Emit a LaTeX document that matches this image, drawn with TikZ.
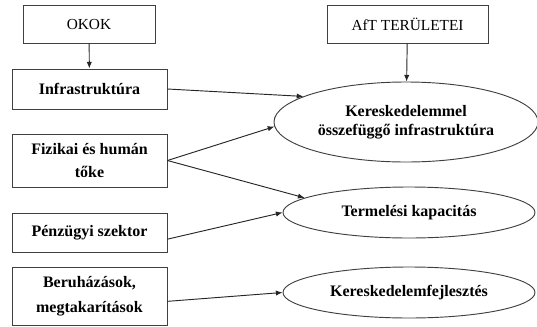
\documentclass[tikz,border=0pt]{standalone}
\usepackage{fontspec}
\setmainfont{Liberation Serif}
\usetikzlibrary{arrows.meta,shapes.geometric}
\tikzset{
  >={Latex[length=5pt,width=4pt]},
  head/.style={draw=black!75, line width=0.7pt, minimum width=132*0.75pt, minimum height=38*0.75pt, inner sep=0pt, font=\fontsize{11.5}{14}\selectfont},
  cause/.style={draw=black!75, line width=0.7pt, minimum width=155*0.75pt, inner sep=0pt, align=center, font=\bfseries\fontsize{12}{17}\selectfont},
  area/.style={draw=black!75, line width=0.7pt, ellipse, inner sep=0pt, align=center, font=\bfseries\fontsize{12}{14.5}\selectfont},
  link/.style={->, draw=black!85, line width=0.7pt},
}

\begin{document}
\begin{tikzpicture}[x=0.75pt, y=-0.75pt]
  \useasboundingbox (0,0) rectangle (537,326);
  % left column
  \node[head] (okok) at (89,24) {OKOK};
  \node[cause, minimum height=40*0.75pt] (infra) at (89.5,89) {Infrastruktúra};
  \node[cause, minimum height=53*0.75pt] (fiz) at (89.5,160.5) {Fizikai és humán\\tőke};
  \node[cause, minimum height=39*0.75pt] (penz) at (89.5,232.5) {Pénzügyi szektor};
  \node[cause, minimum height=58*0.75pt, font=\bfseries\fontsize{12}{19}\selectfont] (beruh) at (89.5,296) {Beruházások,\\megtakarítások};
  % right column
  \node[head, minimum width=161*0.75pt] (aft) at (407.5,24) {AfT TERÜLETEI};
  \node[area, minimum width=264*0.75pt, minimum height=80*0.75pt] (keri) at (406,122) {Kereskedelemmel\\összefüggő infrastruktúra};
  \node[area, minimum width=252*0.75pt, minimum height=51*0.75pt] (term) at (409,212.5) {Termelési kapacitás};
  \node[area, minimum width=252*0.75pt, minimum height=51*0.75pt] (kfej) at (409,292.5) {Kereskedelemfejlesztés};
  % arrows
  \draw[link] (okok) -- (infra);
  \draw[link] (aft) -- (keri);
  \draw[link] (infra.east) -- (keri.166);
  \draw[link] (fiz.east) -- (keri.182);
  \draw[link] (fiz.east) -- (term.172);
  \draw[link] ([yshift=-5pt]penz.east) -- (term.west);
  \draw[link] ([yshift=-4pt]beruh.east) -- (kfej.west);
\end{tikzpicture}
\end{document}
